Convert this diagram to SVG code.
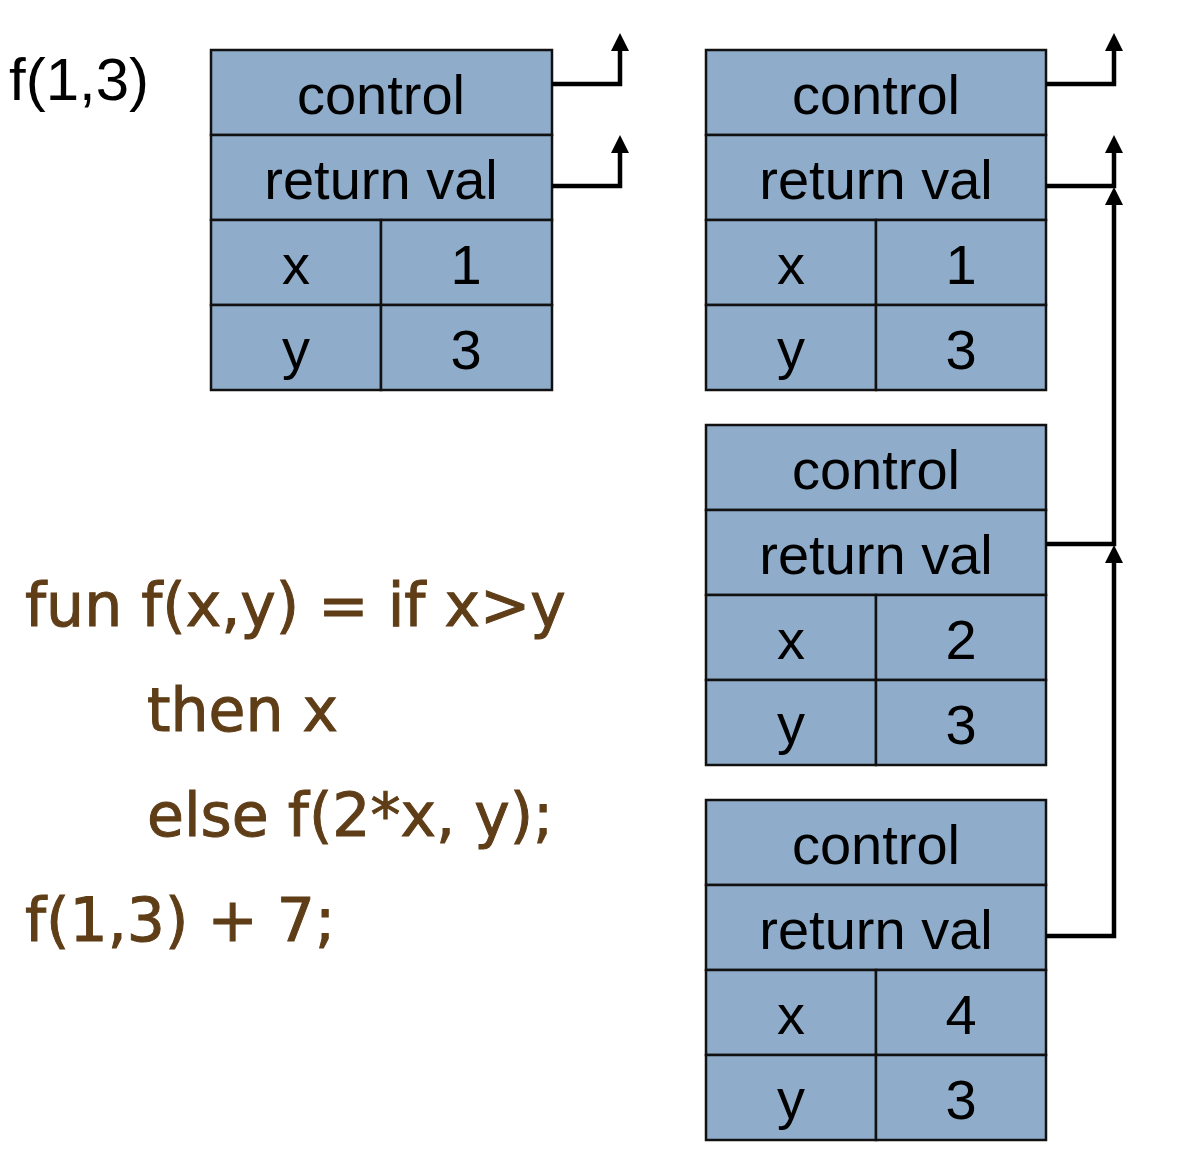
<svg xmlns="http://www.w3.org/2000/svg" width="1196" height="1158" viewBox="0 0 1196 1158">
<defs>
<style>
.cell{fill:#8FADCA;stroke:#111;stroke-width:2.5}
.lbl{font-family:"Liberation Sans",Arial,sans-serif;font-size:56px;fill:#000;text-anchor:middle}
.code{font-family:"DejaVu Sans",Verdana,sans-serif;font-size:60px;fill:#5E3D17;stroke:#5E3D17;stroke-width:1}
.conn{fill:none;stroke:#000;stroke-width:4.5}
</style>
<marker id="ah" markerUnits="userSpaceOnUse" markerWidth="20" markerHeight="20" refX="0" refY="9" orient="auto" viewBox="0 0 20 18">
<path d="M0,0 L18,9 L0,18 z" fill="#000"/>
</marker>
</defs>
<rect width="1196" height="1158" fill="#fff"/>
<text x="9" y="100" font-family="Liberation Sans,Arial,sans-serif" font-size="60" fill="#000">f(1,3)</text>

<g id="frame1">
<rect class="cell" x="211" y="50" width="341" height="85"/>
<rect class="cell" x="211" y="135" width="341" height="85"/>
<rect class="cell" x="211" y="220" width="170" height="85"/>
<rect class="cell" x="381" y="220" width="171" height="85"/>
<rect class="cell" x="211" y="305" width="170" height="85"/>
<rect class="cell" x="381" y="305" width="171" height="85"/>
<text class="lbl" x="381" y="114">control</text>
<text class="lbl" x="381" y="199">return val</text>
<text class="lbl" x="296" y="284">x</text>
<text class="lbl" x="466" y="284">1</text>
<text class="lbl" x="296" y="368">y</text>
<text class="lbl" x="466" y="369">3</text>
</g>

<g id="frame2">
<rect class="cell" x="706" y="50" width="340" height="85"/>
<rect class="cell" x="706" y="135" width="340" height="85"/>
<rect class="cell" x="706" y="220" width="170" height="85"/>
<rect class="cell" x="876" y="220" width="170" height="85"/>
<rect class="cell" x="706" y="305" width="170" height="85"/>
<rect class="cell" x="876" y="305" width="170" height="85"/>
<text class="lbl" x="876" y="114">control</text>
<text class="lbl" x="876" y="199">return val</text>
<text class="lbl" x="791" y="284">x</text>
<text class="lbl" x="961" y="284">1</text>
<text class="lbl" x="791" y="368">y</text>
<text class="lbl" x="961" y="369">3</text>
</g>

<g id="frame3">
<rect class="cell" x="706" y="425" width="340" height="85"/>
<rect class="cell" x="706" y="510" width="340" height="85"/>
<rect class="cell" x="706" y="595" width="170" height="85"/>
<rect class="cell" x="876" y="595" width="170" height="85"/>
<rect class="cell" x="706" y="680" width="170" height="85"/>
<rect class="cell" x="876" y="680" width="170" height="85"/>
<text class="lbl" x="876" y="489">control</text>
<text class="lbl" x="876" y="574">return val</text>
<text class="lbl" x="791" y="659">x</text>
<text class="lbl" x="961" y="659">2</text>
<text class="lbl" x="791" y="743">y</text>
<text class="lbl" x="961" y="744">3</text>
</g>

<g id="frame4">
<rect class="cell" x="706" y="800" width="340" height="85"/>
<rect class="cell" x="706" y="885" width="340" height="85"/>
<rect class="cell" x="706" y="970" width="170" height="85"/>
<rect class="cell" x="876" y="970" width="170" height="85"/>
<rect class="cell" x="706" y="1055" width="170" height="85"/>
<rect class="cell" x="876" y="1055" width="170" height="85"/>
<text class="lbl" x="876" y="864">control</text>
<text class="lbl" x="876" y="949">return val</text>
<text class="lbl" x="791" y="1034">x</text>
<text class="lbl" x="961" y="1034">4</text>
<text class="lbl" x="791" y="1118">y</text>
<text class="lbl" x="961" y="1119">3</text>
</g>

<g id="connectors">
<path class="conn" d="M552,84 H620 V51" marker-end="url(#ah)"/>
<path class="conn" d="M552,186 H620 V153" marker-end="url(#ah)"/>
<path class="conn" d="M1046,84 H1114 V51" marker-end="url(#ah)"/>
<path class="conn" d="M1046,186 H1114 V153" marker-end="url(#ah)"/>
<path class="conn" d="M1046,544 H1114 V205" marker-end="url(#ah)"/>
<path class="conn" d="M1046,936 H1114 V563" marker-end="url(#ah)"/>
</g>

<g id="code">
<text class="code" x="25" y="626">fun f(x,y) = if x&gt;y</text>
<text class="code" x="147" y="731">then x</text>
<text class="code" x="147" y="836">else f(2*x, y);</text>
<text class="code" x="25" y="941">f(1,3) + 7;</text>
</g>
</svg>
